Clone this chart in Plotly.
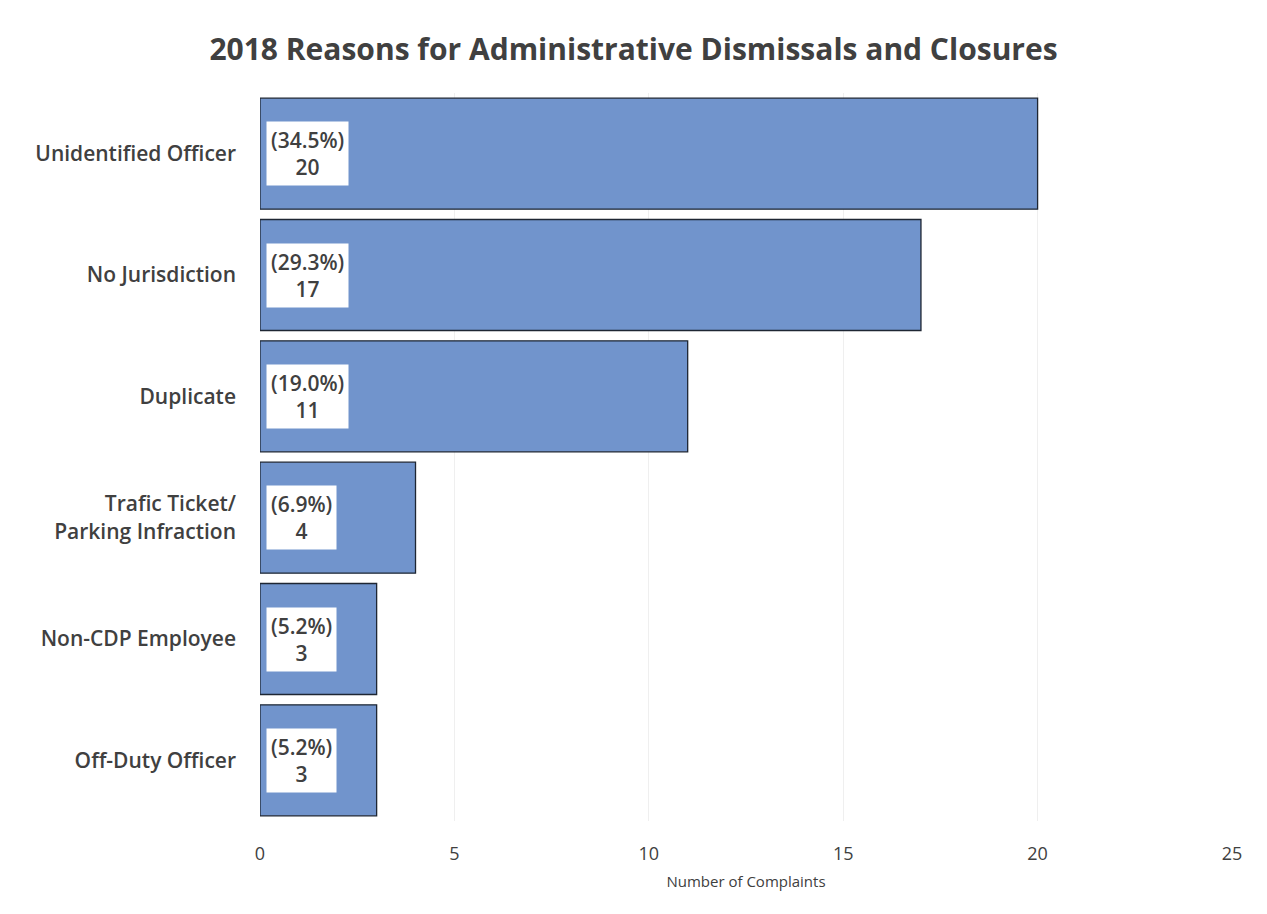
import plotly.graph_objects as go

# Dismissal/closure reasons and complaint counts (top to bottom)
reasons = [
    "Unidentified Officer",
    "No Jurisdiction",
    "Duplicate",
    "Trafic Ticket/<br>Parking Infraction",
    "Non-CDP Employee",
    "Off-Duty Officer",
]
counts = [20, 17, 11, 4, 3, 3]
x_ticks = [0, 5, 10, 15, 20, 25]

total = sum(counts)
shares = [c / total * 100 for c in counts]

BAR_COLOR = "#7194cc"
TEXT_COLOR = "#404040"
FONT = "Open Sans"

fig = go.Figure(
    go.Bar(
        x=counts,
        y=reasons,
        orientation="h",
        marker=dict(color=BAR_COLOR, line=dict(color="#1e2633", width=1.3)),
        hoverinfo="skip",
    )
)

# White value boxes at the base of each bar: share and count
for reason, count, share in zip(reasons, counts, shares):
    fig.add_annotation(
        x=0,
        y=reason,
        xref="x",
        yref="y",
        xanchor="left",
        yanchor="middle",
        xshift=6,
        text=f"({share:.1f}%)<br>{count}",
        showarrow=False,
        bgcolor="white",
        borderpad=4,
        align="center",
        font=dict(family=FONT, size=21, color=TEXT_COLOR, weight=600),
    )

fig.update_layout(
    width=1267,
    height=914,
    margin=dict(l=260, r=35, t=93, b=93),
    paper_bgcolor="white",
    plot_bgcolor="white",
    bargap=0.085,
    showlegend=False,
    font=dict(family=FONT, color=TEXT_COLOR),
    title=dict(
        text="<b>2018 Reasons for Administrative Dismissals and Closures</b>",
        x=0.5,
        xanchor="center",
        y=0.946,
        yanchor="middle",
        font=dict(family=FONT, size=30, color=TEXT_COLOR),
    ),
    xaxis=dict(
        range=[0, 25],
        tickvals=x_ticks,
        showgrid=True,
        gridcolor="#efefef",
        zeroline=False,
        showline=False,
        ticks="",
        ticklabelstandoff=20,
        tickfont=dict(family=FONT, size=18, color=TEXT_COLOR, weight=500),
        title=dict(
            text="Number of Complaints",
            font=dict(family=FONT, size=15, color=TEXT_COLOR),
            standoff=12,
        ),
    ),
    yaxis=dict(
        autorange="reversed",
        showgrid=False,
        showline=False,
        ticks="",
        ticklabelstandoff=23,
        tickfont=dict(family=FONT, size=21, color=TEXT_COLOR, weight=600),
    ),
)

fig.write_html("out.html")
